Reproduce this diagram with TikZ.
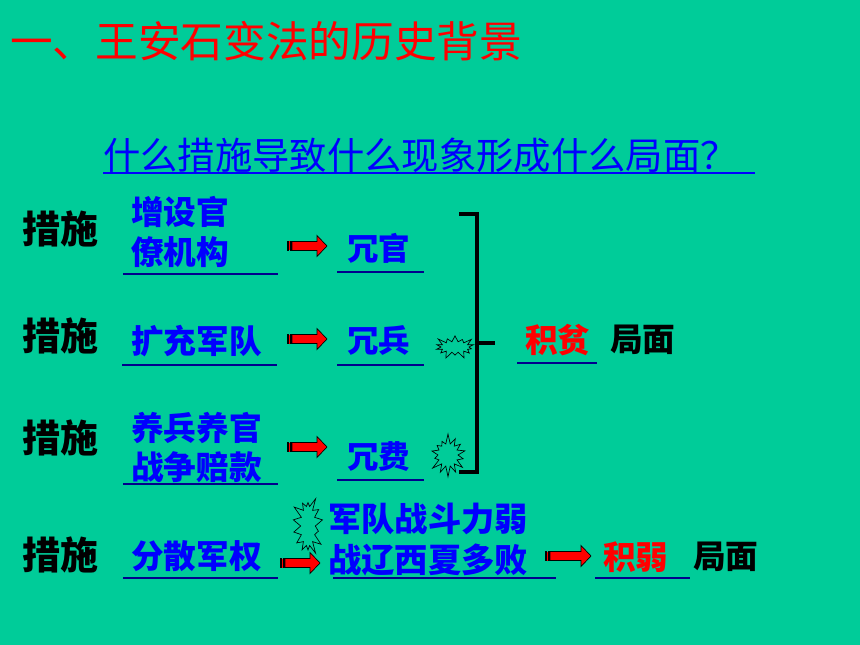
\documentclass[tikz,border=0pt]{standalone}
\usepackage{fontspec}
\newfontfamily\cjk{Noto Sans CJK SC}
\usetikzlibrary{shapes.symbols}
\definecolor{bg}{RGB}{0,204,153}
\definecolor{navy}{RGB}{0,0,140}
\definecolor{tblue}{RGB}{0,0,255}
\tikzset{
  txt/.style={inner sep=0pt, anchor=west,
    font=\cjk\fontsize{#1}{#1}\selectfont},
  btxt/.style={inner sep=0pt, anchor=west,
    font=\cjk\bfseries\fontsize{#1}{#1}\selectfont},
  measure/.style={btxt=24.5pt, text=tblue},
  blank/.style={draw=navy, line width=1.8pt},
  boom/.style={starburst, draw=black, line width=0.5pt, inner sep=0pt,
    starburst points=14, starburst point height=8pt},
  barrow/.pic={
    \filldraw[black] (0,-4.5) rectangle (1.5,4.5);
    \filldraw[black] (3,-4.5) rectangle (4.5,4.5);
    \fill[red] (1.5,-4.5) rectangle (3,4.5);
    \filldraw[fill=red, draw=black, line width=0.5pt]
      (5,-4.5) -- (#1-10,-4.5) -- (#1-10,-10.5) -- (#1,0) -- (#1-10,10.5)
      -- (#1-10,4.5) -- (5,4.5) -- cycle;
  }
}
\begin{document}
\begin{tikzpicture}[x=0.75pt, y=-0.75pt]
\fill[bg] (0,0) rectangle (860,645);
\useasboundingbox (0,0) rectangle (860,645);

% title and question
\node[txt=32pt, text=red] (title) at (10,41) {一、王安石变法的历史背景};
\node[txt=28pt, text=tblue] (q) at (103,155) {什么措施导致什么现象形成什么局面？};
\draw[tblue, line width=1.5pt] (103,173) -- (755,173);

% 措施 labels
\node[btxt=28.5pt] (c1) at (22,229) {措施};
\node[btxt=28.5pt] (c2) at (22,336) {措施};
\node[btxt=28.5pt] (c3) at (22,438) {措施};
\node[btxt=28.5pt] (c4) at (22,555) {措施};

% measures
\node[measure] (m1a) at (131,212) {增设官};
\node[measure] (m1b) at (131,252) {僚机构};
\node[measure] (m2) at (131,341) {扩充军队};
\node[measure] (m3a) at (131,428) {养兵养官};
\node[measure] (m3b) at (131,467) {战争赔款};
\node[measure] (m4) at (131,556) {分散军权};
\draw[blank] (123,274) -- (278,274);
\draw[blank] (122,365) -- (277,365);
\draw[blank] (123,484) -- (278,484);
\draw[blank] (123,578) -- (278,578);

% arrows
\pic at (287,246) {barrow=40};
\pic at (287,339) {barrow=40};
\pic at (287,447) {barrow=40};
\pic at (280,563) {barrow=40};
\pic at (545,556) {barrow=46};

% phenomena
\node[btxt=23.6pt, text=tblue] (r1) at (347,248) {冗官};
\node[btxt=23.6pt, text=tblue] (r2) at (347,340) {冗兵};
\node[btxt=23.6pt, text=tblue] (r3) at (347,457) {冗费};
\draw[blank] (337,272) -- (424,272);
\draw[blank] (337,365) -- (424,365);
\draw[blank] (337,480) -- (424,480);

\node[btxt=25pt, text=tblue] (r4a) at (328,519) {军队战斗力弱};
\node[btxt=25pt, text=tblue] (r4b) at (328,560) {战辽西夏多败};
\draw[blank] (333,578) -- (556,578);

% starbursts
\node[boom, minimum width=33pt, minimum height=20pt, starburst point height=6pt] (s1) at (455,347) {};
\node[boom, minimum width=31pt, minimum height=33pt, random starburst=7] (s2) at (448,455) {};
\node[boom, minimum width=27pt, minimum height=46pt, random starburst=3] (s3) at (308,526) {};

% bracket
\coordinate (bt) at (459,214);
\coordinate (bb) at (459,472);
\coordinate (bm) at (477,343);
\coordinate (bo) at (495,343);
\draw[line width=2.3pt] (bt) -- (477,214) -- (477,472) -- (bb);
\draw[line width=2.3pt] (bm) -- (bo);

% results
\node[btxt=24.5pt, text=red] (p1) at (525,340) {积贫};
\node[btxt=24.5pt] (j1) at (610,340) {局面};
\draw[blank] (517,363) -- (597,363);
\node[btxt=24.5pt, text=red] (p2) at (603,557) {积弱};
\node[btxt=24.5pt] (j2) at (693,557) {局面};
\draw[blank] (595,578) -- (690,578);
\end{tikzpicture}
\end{document}
